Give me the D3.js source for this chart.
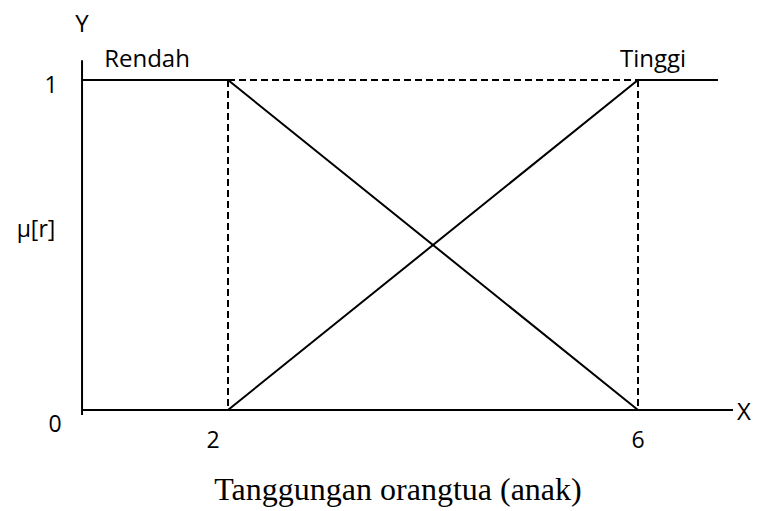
<!DOCTYPE html>
<html>
<head>
<meta charset="utf-8">
<script src="https://cdn.jsdelivr.net/npm/d3@7"></script>
<style>
  body { margin: 0; background: #fff; }
  text { font-family: "Open Sans", "Liberation Sans", sans-serif; fill: #000; }
  .title { font-family: "Liberation Serif", "DejaVu Serif", serif; }
</style>
</head>
<body>
<div id="chart"></div>
<script>
// membership functions (x = tanggungan, y = mu)
const rendahPts = [[0.576, 1], [2, 1], [6, 0]];
const tinggiPts = [[2, 0], [6, 1], [6.78, 1]];
const xTicks = [2, 6];
const yTicks = [0, 1];
const xDomain = [0.576, 6.927];
const yDomain = [-0.015, 1.06];

const width = 757, height = 511;

const svg = d3.select("#chart").append("svg")
    .attr("width", width)
    .attr("height", height);

// scales: 2 -> 228px, 6 -> 638px ; 0 -> 410px, 1 -> 80px
const x = d3.scaleLinear().domain([2, 6]).range([228, 638]);
const y = d3.scaleLinear().domain([0, 1]).range([410, 80]);

const line = d3.line().x(d => x(d[0])).y(d => y(d[1]));

// axes
svg.append("line")
    .attr("x1", x(xDomain[0])).attr("x2", x(xDomain[0]))
    .attr("y1", y(yDomain[1])).attr("y2", y(yDomain[0]))
    .attr("stroke", "#000").attr("stroke-width", 2);
svg.append("line")
    .attr("x1", x(xDomain[0])).attr("x2", x(xDomain[1]))
    .attr("y1", y(0)).attr("y2", y(0))
    .attr("stroke", "#000").attr("stroke-width", 2);

// dashed guides
const dashed = [
  [[2, 1], [2, 0]],
  [[6, 1], [6, 0]],
  [[2, 1], [6, 1]]
];
svg.selectAll(".guide")
    .data(dashed)
    .enter().append("path")
    .attr("class", "guide")
    .attr("d", line)
    .attr("fill", "none")
    .attr("stroke", "#000")
    .attr("stroke-width", 2)
    .attr("stroke-dasharray", "7,4");

// membership lines
svg.selectAll(".mf")
    .data([rendahPts, tinggiPts])
    .enter().append("path")
    .attr("class", "mf")
    .attr("d", line)
    .attr("fill", "none")
    .attr("stroke", "#000")
    .attr("stroke-width", 2);

// tick labels
svg.selectAll(".xtick")
    .data(xTicks)
    .enter().append("text")
    .attr("x", d => d === 2 ? x(d) - 15 : x(d))
    .attr("y", 448)
    .attr("text-anchor", "middle")
    .attr("font-size", 23)
    .text(d => d);

svg.selectAll(".ytick")
    .data(yTicks)
    .enter().append("text")
    .attr("x", d => d === 1 ? 51 : 55)
    .attr("y", d => d === 1 ? y(d) + 13 : y(d) + 22)
    .attr("text-anchor", "middle")
    .attr("font-size", 23)
    .text(d => d);

// labels
svg.append("text").attr("x", 82).attr("y", 32).attr("text-anchor", "middle")
    .attr("font-size", 24).text("Y");
svg.append("text").attr("x", 744).attr("y", 420).attr("text-anchor", "middle")
    .attr("font-size", 24).text("X");
svg.append("text").attr("x", 147).attr("y", 67).attr("text-anchor", "middle")
    .attr("font-size", 24).text("Rendah");
svg.append("text").attr("x", 653).attr("y", 67).attr("text-anchor", "middle")
    .attr("font-size", 24).text("Tinggi");
svg.append("text").attr("x", 36).attr("y", 237).attr("text-anchor", "middle")
    .attr("font-size", 23).text("μ[r]");
svg.append("text").attr("class", "title").attr("x", 398).attr("y", 500)
    .attr("text-anchor", "middle").attr("font-size", 32)
    .text("Tanggungan orangtua (anak)");
</script>
</body>
</html>
